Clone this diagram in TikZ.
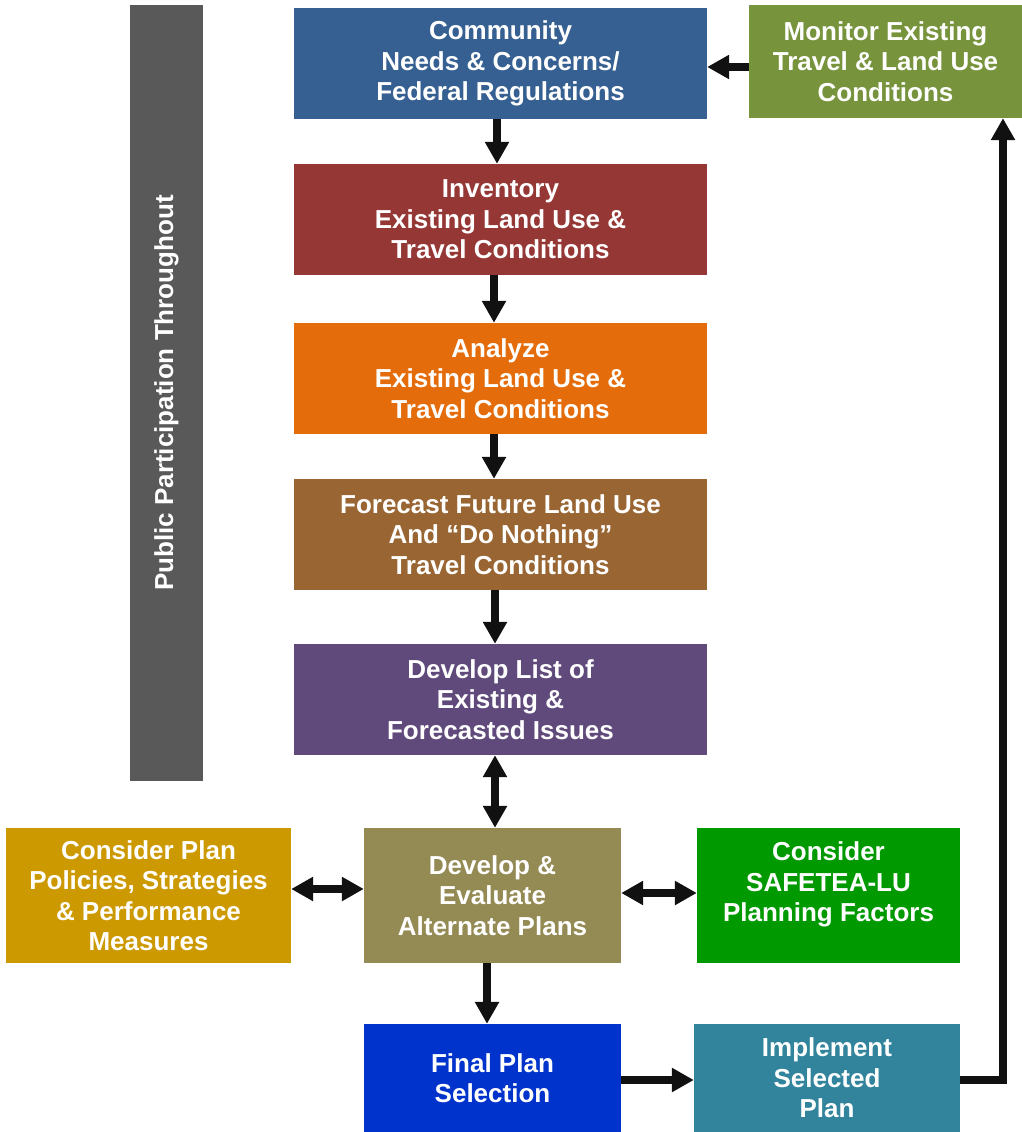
\documentclass[tikz,border=0pt]{standalone}
\usepackage{fontspec}
\setmainfont{Liberation Sans}
\usetikzlibrary{arrows.meta}
\definecolor{cComm}{HTML}{366092}
\definecolor{cMon}{HTML}{77933C}
\definecolor{cInv}{HTML}{953735}
\definecolor{cAna}{HTML}{E46C0A}
\definecolor{cFore}{HTML}{996633}
\definecolor{cList}{HTML}{604A7B}
\definecolor{cEval}{HTML}{948A54}
\definecolor{cPlan}{HTML}{CC9900}
\definecolor{cSafe}{HTML}{009900}
\definecolor{cFinal}{HTML}{0033CC}
\definecolor{cImpl}{HTML}{31849B}
\definecolor{cBar}{HTML}{595959}
\definecolor{cArr}{HTML}{111111}
\begin{document}
\begin{tikzpicture}[x=1pt,y=-1pt,
  box/.style={rectangle, inner sep=0pt, text=white,
    font=\fontsize{26}{30.5}\selectfont\bfseries, align=center},
  arr/.style={line width=7.5pt, draw=cArr, -{Triangle[width=23pt,length=22pt]}},
  darr/.style={line width=7.5pt, draw=cArr,
    {Triangle[width=23pt,length=22pt]}-{Triangle[width=23pt,length=22pt]}}]
\useasboundingbox[fill=white] (0,0) rectangle (1022,1132);

% side bar
\node[box, fill=cBar, minimum width=73pt, minimum height=776pt] (bar) at (166.5,393) {};
\node[box, rotate=90] (bartext) at (bar.center) {Public Participation Throughout};

% main column
\node[box, fill=cComm, minimum width=413pt, minimum height=111pt] (comm) at (500.5,63.5)
  {Community\\Needs \& Concerns/\\Federal Regulations};
\node[box, fill=cMon, minimum width=273pt, minimum height=113pt] (mon) at (885.5,61.5)
  {Monitor Existing\\Travel \& Land Use\\Conditions};
\node[box, fill=cInv, minimum width=413pt, minimum height=111pt] (inv) at (500.5,219.5)
  {Inventory\\Existing Land Use \&\\Travel Conditions};
\node[box, fill=cAna, minimum width=413pt, minimum height=111pt] (ana) at (500.5,378.5)
  {Analyze\\Existing Land Use \&\\Travel Conditions};
\node[box, fill=cFore, minimum width=413pt, minimum height=111pt] (fore) at (500.5,534.5)
  {Forecast Future Land Use\\And “Do Nothing”\\Travel Conditions};
\node[box, fill=cList, minimum width=413pt, minimum height=111pt] (dlist) at (500.5,699.5)
  {Develop List of\\Existing \&\\Forecasted Issues};

% lower row
\node[box, fill=cEval, minimum width=257pt, minimum height=135pt] (deval) at (492.5,895.5)
  {Develop \&\\Evaluate\\Alternate Plans};
\node[box, fill=cPlan, minimum width=285pt, minimum height=135pt] (cplan) at (148.5,895.5)
  {Consider Plan\\Policies, Strategies\\\& Performance\\Measures};
\node[box, fill=cSafe, minimum width=263pt, minimum height=135pt] (safe) at (828.5,895.5) {};
\node[box] (safetext) at ([yshift=11pt]safe.center)
  {Consider\\SAFETEA-LU\\Planning Factors};
\node[box, fill=cFinal, minimum width=257pt, minimum height=108pt] (final) at (492.5,1078)
  {Final Plan\\Selection};
\node[box, fill=cImpl, minimum width=266pt, minimum height=108pt] (impl) at (827,1078)
  {Implement\\Selected\\Plan};

% connectors
\draw[arr] (mon.west |- 0,67) -- (comm.east |- 0,67);
\draw[arr] (497,0 |- comm.south) -- (497,0 |- inv.north);
\draw[arr] (494,0 |- inv.south) -- (494,0 |- ana.north);
\draw[arr] (494,0 |- ana.south) -- (494,0 |- fore.north);
\draw[arr] (495,0 |- fore.south) -- (495,0 |- dlist.north);
\draw[darr] (495,0 |- dlist.south) -- (495,0 |- deval.north);
\draw[darr] (cplan.east |- 0,889) -- (deval.west |- 0,889);
\draw[darr] (deval.east |- 0,893) -- (safe.west |- 0,893);
\draw[arr] (487,0 |- deval.south) -- (487,0 |- final.north);
\draw[arr] (final.east |- 0,1080) -- (impl.west |- 0,1080);
\draw[arr] (impl.east |- 0,1080) -| (1003,0 |- mon.south);
\end{tikzpicture}
\end{document}
